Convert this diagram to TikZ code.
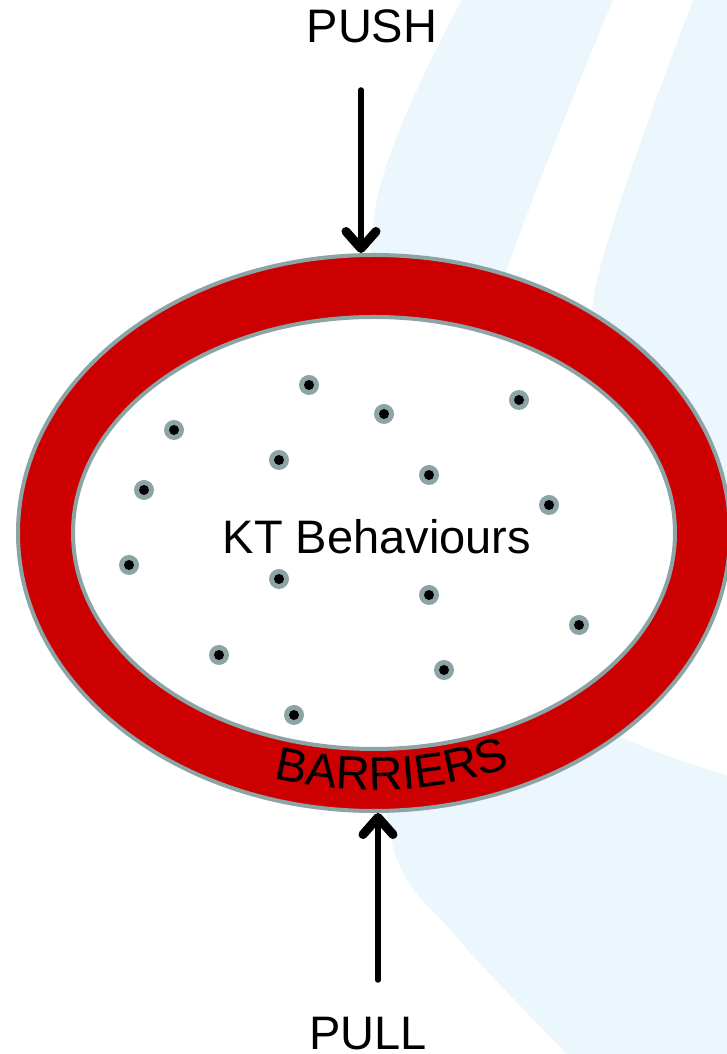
\documentclass[tikz,border=0pt]{standalone}
\usepackage{fontspec}
\setmainfont{Liberation Sans}
\usetikzlibrary{shapes.geometric, arrows.meta, decorations.text}

\definecolor{ringred}{HTML}{CC0000}
\definecolor{rimgray}{HTML}{8CA4A6}
\definecolor{paleblue}{HTML}{EBF6FD}

\begin{document}
\begin{tikzpicture}[x=1pt, y=1pt,
    bigtext/.style={font=\fontsize{47}{52}\selectfont},
    dot/.style={circle, fill=rimgray, minimum size=20pt, inner sep=0pt,
        path picture={\fill[black] (path picture bounding box.center) circle (5pt);}},
    force/.style={line width=5.5pt, line cap=round,
        -{Straight Barb[length=17pt, width=30pt, line width=9pt, round]}}]
    \useasboundingbox (0,0) rectangle (727,1054);

        % Background swoosh
        \fill[paleblue] plot[smooth] coordinates {(462,1054) (377,854) (362,534) (390,219) (453,121) (567,0)}
            -- (727,0) -- (727,1054) -- cycle;
        \fill[white] plot[smooth] coordinates {(613,1054) (497,754) (470,554) (560,354) (727,279)}
            -- plot[smooth] coordinates {(727,574) (640,624) (593,754) (693,1054)} -- cycle;

        % Define ring
        \node (barrier) [ellipse, fill=ringred, draw=rimgray, line width=4pt,
            minimum width=712pt, minimum height=556pt] at (374,521) {};
        \node (inside) [ellipse, fill=white, draw=rimgray, line width=4pt,
            minimum width=602pt, minimum height=432pt] at (374,521) {};
        \node (kt) [bigtext, anchor=base] at (377,500) {KT Behaviours};

        % Dots inside the ring
        \foreach \x/\y [count=\i] in {309/669, 384/640, 519/654, 174/624, 279/594,
            429/579, 144/564, 549/549, 129/489, 279/475, 429/459, 579/429,
            219/399, 444/384, 294/339}
            \node (d\i) [dot] at (\x,\y) {};

        % Barrier label along the ring
        \path[decorate, decoration={text along path, text align=left,
            text={|\fontsize{47}{52}\selectfont|BARRIERS}}]
            (374,521) ++(252.5:333 and 257) arc[start angle=252.5, end angle=310, x radius=333, y radius=257];

        % Draw arrows
        \node (push) [bigtext, anchor=base] at (372,1011) {PUSH};
        \node (pull) [bigtext, anchor=base] at (368,5) {PULL};
        \coordinate (pushstart) at (361,964);
        \coordinate (pullstart) at (378,74);
        \draw[force] (pushstart) -- (barrier.north -| pushstart);
        \draw[force] (pullstart) -- (barrier.south -| pullstart);

    \end{tikzpicture}
\end{document}
